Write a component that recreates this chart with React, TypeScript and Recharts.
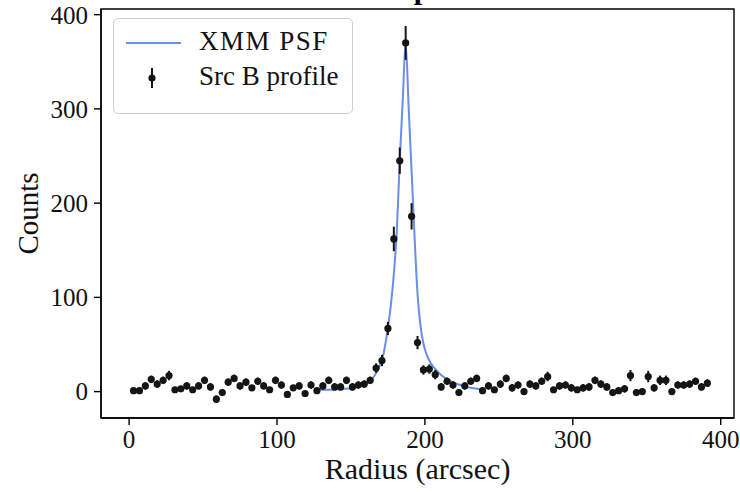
import React from 'react';
import {
  ComposedChart,
  Line,
  Scatter,
  ErrorBar,
  XAxis,
  YAxis,
  ReferenceArea,
  Label,
} from 'recharts';

// radial bins (arcsec) of the source profile
const radii = [
  3, 7, 11, 15, 19, 23, 27, 31, 35, 39, 43, 47, 51, 55, 59, 63, 67, 71, 75, 79,
  83, 87, 91, 95, 99, 103, 107, 111, 115, 119, 123, 127, 131, 135, 139, 143, 147, 151, 155, 159,
  163, 167, 171, 175, 179, 183, 187, 191, 195, 199, 203, 207, 211, 215, 219, 223, 227, 231, 235, 239,
  243, 247, 251, 255, 259, 263, 267, 271, 275, 279, 283, 287, 291, 295, 299, 303, 307, 311, 315, 319,
  323, 327, 331, 335, 339, 343, 347, 351, 355, 359, 363, 367, 371, 375, 379, 383, 387, 391,
];
const counts = [
  1, 1, 6, 13, 8, 12, 17, 2, 3, 6, 2, 6, 12, 5, -8, -1, 10, 14, 6, 10,
  4, 11, 6, 2, 12, 7, -3, 4, 6, -2, 7, 1, 6, 12, 5, 5, 12, 5, 7, 8,
  12, 25, 33, 67, 162, 245, 370, 186, 52, 23, 24, 18, 5, 11, 7, -1, 6, 11, 14, 1,
  6, 2, 8, 14, 4, 7, 0, 8, 6, 11, 16, 2, 6, 7, 4, 2, 4, 5, 12, 8,
  5, -1, 1, 3, 17, -1, 0, 16, 4, 12, 12, 0, 7, 7, 8, 11, 5, 9,
];
const countErrs = [
  3, 3, 4, 4, 4, 4, 5, 3, 3, 4, 3, 4, 4, 4, 4, 3, 4, 4, 4, 4,
  3, 4, 4, 3, 4, 4, 3, 3, 4, 3, 4, 3, 4, 4, 4, 4, 4, 4, 4, 4,
  4, 5, 6, 7, 13, 14, 18, 14, 7, 5, 5, 5, 4, 4, 4, 3, 4, 4, 4, 3,
  4, 3, 4, 4, 4, 4, 3, 4, 4, 4, 5, 3, 4, 4, 4, 3, 4, 4, 4, 4,
  4, 3, 3, 4, 6, 3, 3, 6, 4, 5, 5, 3, 4, 4, 4, 4, 4, 4,
];

// model PSF curve
const psfRadii = [
  129, 135, 140, 145, 150, 155, 160, 163, 166, 169, 172, 175, 177, 179, 181, 183, 185, 187,
  189, 191, 193, 195, 197, 199, 201, 204, 207, 210, 214, 218, 223, 228, 233, 239,
];
const psfCounts = [
  2, 2, 2.5, 3, 3.5, 5, 8, 11, 17, 26, 40, 68, 92, 125, 170, 245, 308, 370,
  302, 234, 165, 104, 70, 51, 40, 30, 24, 19, 14, 10.5, 7.5, 5, 3.5, 2,
];

const xTicks = [0, 100, 200, 300, 400];
const yTicks = [0, 100, 200, 300, 400];

const FONT = '"Liberation Serif", "DejaVu Serif", serif';
const PSF_COLOR = '#6a8ee6';
const DOT_COLOR = '#151515';

const profileData = radii.map((r, i) => ({ r, counts: counts[i], err: countErrs[i] }));
const psfData = psfRadii.map((r, i) => ({ r, psf: psfCounts[i] }));

function Dot(props: { cx?: number; cy?: number }) {
  if (props.cx == null || props.cy == null) return null;
  return <circle cx={props.cx} cy={props.cy} r={3.6} fill={DOT_COLOR} />;
}

function PlotLegend() {
  return (
    <div
      style={{
        position: 'absolute',
        left: 113,
        top: 18,
        width: 238,
        height: 94,
        border: '1px solid #d0d0d0',
        borderRadius: 5,
        background: 'rgba(255,255,255,0.85)',
        fontFamily: FONT,
        fontSize: 27,
        color: '#111',
      }}
    >
      <svg width={80} height={94} style={{ position: 'absolute', left: 0, top: 0 }}>
        <line x1={12} x2={67} y1={24} y2={24} stroke={PSF_COLOR} strokeWidth={2} />
        <line x1={38} x2={38} y1={49} y2={69} stroke={DOT_COLOR} strokeWidth={2} />
        <circle cx={38} cy={59} r={3.6} fill={DOT_COLOR} />
      </svg>
      <div style={{ position: 'absolute', left: 85, top: 7, whiteSpace: 'nowrap', letterSpacing: 1.5 }}>XMM PSF</div>
      <div style={{ position: 'absolute', left: 85, top: 42, whiteSpace: 'nowrap' }}>Src B profile</div>
    </div>
  );
}

export default function App() {
  return (
    <div style={{ position: 'absolute', left: 0, top: 0, width: 740, height: 492, background: '#fff', overflow: 'hidden' }}>
      <div
        style={{
          position: 'absolute',
          left: 0,
          width: 834,
          top: -28,
          textAlign: 'center',
          fontFamily: FONT,
          fontWeight: 'bold',
          fontSize: 30,
          lineHeight: '34px',
        }}
      >
        Src B profile
      </div>
      <ComposedChart width={740} height={492} margin={{ top: 9, right: 6, bottom: 0, left: 0 }}>
        <XAxis
          dataKey="r"
          type="number"
          domain={[-19, 409]}
          ticks={xTicks}
          allowDataOverflow
          height={74}
          axisLine={{ stroke: '#000', strokeWidth: 1.4 }}
          tickLine={{ stroke: '#000', strokeWidth: 1.4 }}
          tickSize={7}
          tickMargin={5}
          tick={{ fill: '#111', fontSize: 25, fontFamily: FONT }}
        >
          <Label value="Radius (arcsec)" position="insideBottom" offset={13} style={{ fill: '#111', fontSize: 30, fontFamily: FONT }} />
        </XAxis>
        <YAxis
          type="number"
          domain={[-28, 406]}
          ticks={yTicks}
          allowDataOverflow
          width={101}
          axisLine={{ stroke: '#000', strokeWidth: 1.4 }}
          tickLine={{ stroke: '#000', strokeWidth: 1.4 }}
          tickSize={7}
          tickMargin={6}
          tick={{ fill: '#111', fontSize: 25, fontFamily: FONT }}
        >
          <Label
            content={(p: any) => {
              const vb = p.viewBox || {};
              const cx = 28;
              const cy = (vb.y ?? 9) + (vb.height ?? 409) / 2;
              return (
                <text
                  x={cx}
                  y={cy}
                  transform={`rotate(-90 ${cx} ${cy})`}
                  textAnchor="middle"
                  dominantBaseline="central"
                  fill="#111"
                  fontSize={29}
                  fontFamily={FONT}
                >
                  Counts
                </text>
              );
            }}
          />
        </YAxis>
        <ReferenceArea x1={-19} x2={409} y1={-28} y2={406} fill="none" stroke="#000" strokeWidth={1.4} ifOverflow="visible" />
        <Line
          data={psfData}
          dataKey="psf"
          type="monotone"
          stroke={PSF_COLOR}
          strokeWidth={2}
          dot={false}
          isAnimationActive={false}
        />
        <Scatter data={profileData} dataKey="counts" shape={<Dot />} isAnimationActive={false}>
          <ErrorBar dataKey="err" direction="y" width={0} stroke={DOT_COLOR} strokeWidth={2} isAnimationActive={false} />
        </Scatter>
      </ComposedChart>
      <PlotLegend />
    </div>
  );
}
